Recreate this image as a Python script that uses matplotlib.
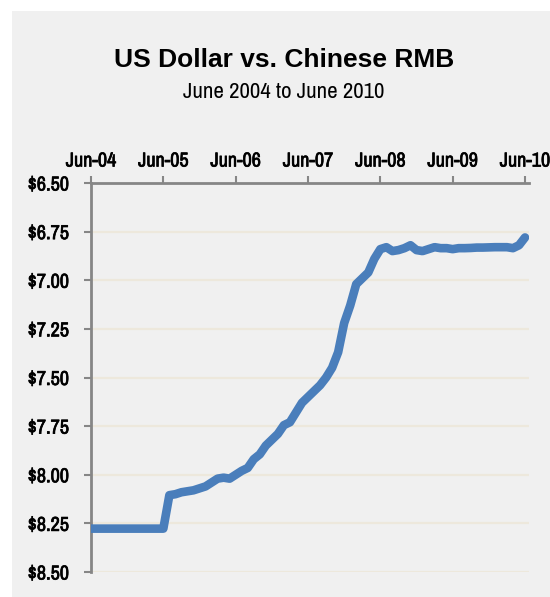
import numpy as np
import matplotlib
matplotlib.use("Agg")
import matplotlib.pyplot as plt
import matplotlib.patheffects as pe
from matplotlib.patches import Rectangle

# Monthly USD/RMB rate, Jun-04 .. Jun-10
rate = [8.277, 8.277, 8.277, 8.277, 8.277, 8.277, 8.277, 8.277, 8.277, 8.277,
        8.277, 8.277, 8.277, 8.105, 8.10, 8.09, 8.085, 8.08, 8.07, 8.06,
        8.04, 8.02, 8.015, 8.02, 8.00, 7.98, 7.965, 7.92, 7.895, 7.85,
        7.82, 7.79, 7.745, 7.73, 7.68, 7.63, 7.60, 7.57, 7.54, 7.50,
        7.45, 7.37, 7.22, 7.13, 7.02, 6.99, 6.96, 6.89, 6.84, 6.83,
        6.85, 6.845, 6.835, 6.82, 6.845, 6.85, 6.84, 6.83, 6.835, 6.835,
        6.84, 6.835, 6.835, 6.834, 6.832, 6.832, 6.831, 6.83, 6.83, 6.83,
        6.835, 6.82, 6.78]
months = np.arange(len(rate))

xtick_pos = [0, 12, 24, 36, 48, 60, 72]
xtick_labels = ['Jun-04', 'Jun-05', 'Jun-06', 'Jun-07', 'Jun-08', 'Jun-09', 'Jun-10']
ytick_vals = [6.50, 6.75, 7.00, 7.25, 7.50, 7.75, 8.00, 8.25, 8.50]

narrow = ['Liberation Sans Narrow', 'Archivo Narrow', 'DejaVu Sans']
bg = '#f0f0f0'
bolden = [pe.withStroke(linewidth=0.5, foreground='black')]

fig = plt.figure(figsize=(5.5, 5.97), dpi=100)
fig.patch.set_facecolor('white')
fig.patches.append(Rectangle((12 / 550, 0), 1, 1 - 11 / 597, transform=fig.transFigure,
                             facecolor=bg, edgecolor='none', zorder=-10))

ax = fig.add_axes([91 / 550, 1 - 572 / 597, (529 - 91) / 550, (572 - 183) / 597])
ax.set_facecolor(bg)

# gridlines
for v in ytick_vals[1:]:
    ax.axhline(v, color='#ede8dc', lw=1.6, zorder=1)

ax.plot(months, rate, color='#4a7ebb', lw=6.2, solid_capstyle='round',
        solid_joinstyle='round', zorder=3)

ax.set_xlim(0, 72.66)
ax.set_ylim(8.5, 6.5)

ax.xaxis.tick_top()
ax.set_xticks(xtick_pos)
ax.set_xticklabels(xtick_labels, family=narrow, fontsize=14.5, path_effects=bolden)
ax.set_yticks(ytick_vals)
ax.set_yticklabels(['$%.2f' % v for v in ytick_vals], family=narrow, fontsize=14.5,
                   path_effects=bolden)

for s in ['right', 'bottom']:
    ax.spines[s].set_visible(False)
for s in ['left', 'top']:
    ax.spines[s].set_color('#868686')
    ax.spines[s].set_linewidth(2)
ax.tick_params(axis='both', colors='#868686', width=1.5, length=5, labelcolor='black')
ax.tick_params(axis='x', pad=4)
ax.tick_params(axis='y', pad=11)

fig.text(284 / 550, 1 - 60 / 597, 'US Dollar vs. Chinese RMB', ha='center', va='center',
         fontsize=19, fontweight='bold', family=['Liberation Sans', 'DejaVu Sans'])
fig.text(284 / 550, 1 - 92 / 597, 'June 2004 to June 2010', ha='center', va='center',
         fontsize=16.5, family=narrow)

fig.savefig('out.png', dpi=100)
